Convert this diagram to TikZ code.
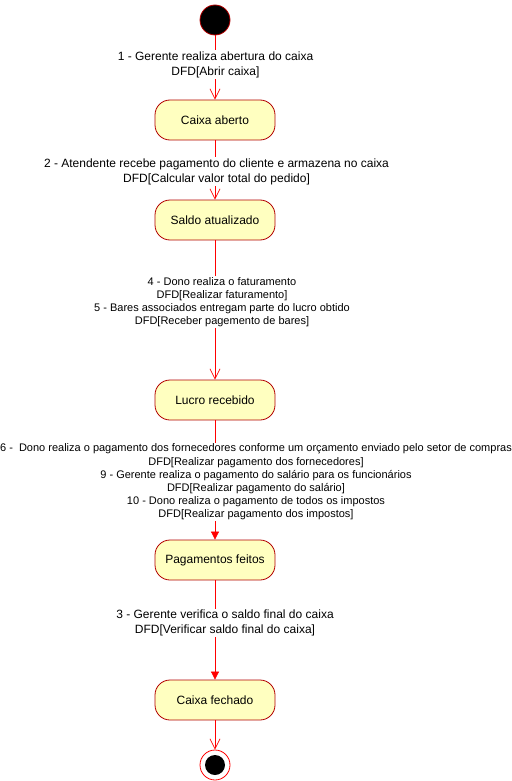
\documentclass[tikz,border=0pt]{standalone}
\usepackage{fontspec}
\setmainfont{Liberation Sans}
\usetikzlibrary{arrows.meta}
\definecolor{stfill}{HTML}{FFFFC0}
\definecolor{ststroke}{HTML}{B20000}
\definecolor{edgered}{HTML}{FF0000}
\begin{document}
\begin{tikzpicture}[x=1pt,y=-1pt,
  state/.style={draw=ststroke, fill=stfill, rounded corners=15pt, minimum width=120pt, minimum height=40pt, inner sep=0pt, font=\fontsize{12}{14.4}\selectfont, line width=0.8pt},
  edge/.style={draw=edgered, line width=0.7pt},
  openarr/.style={edge, -{Straight Barb[length=10pt,width=10pt,line width=0.7pt]}},
  filledarr/.style={edge, -{Triangle[length=8pt,width=8pt]}},
  lbl/.style={fill=white, align=center, inner sep=1pt, font=\fontsize{12}{15}\selectfont},
  lblsmall/.style={lbl, font=\fontsize{11}{13.2}\selectfont}
]
\useasboundingbox (0,0) rectangle (511,781);
\node[circle, fill=black, draw=ststroke, line width=0.8pt, minimum size=30pt, inner sep=0pt] (init) at (215,20) {};
\node[state] (s1) at (215,120) {Caixa aberto};
\node[state] (s2) at (215,220) {Saldo atualizado};
\node[state] (s3) at (215,400) {Lucro recebido};
\node[state] (s4) at (215,560) {Pagamentos feitos};
\node[state] (s5) at (215,700) {Caixa fechado};
\node[circle, draw=edgered, fill=white, line width=0.8pt, minimum size=30pt, inner sep=0pt] (fin) at (215,765) {};
\node[circle, fill=black, minimum size=20pt, inner sep=0pt] (fininner) at (215,765) {};

\draw[openarr] (init) -- (s1);
\draw[openarr] (s1) -- (s2);
\draw[openarr] (s2) -- (s3);
\draw[filledarr] (s3) -- (s4);
\draw[filledarr] (s4) -- (s5);
\draw[openarr] (s5) -- (fin);

\node[lbl] (l1) at (215.5,64.5) {1 - Gerente realiza abertura do caixa\\DFD[Abrir caixa]};
\node[lbl] (l2) at (216.5,171.5) {2 - Atendente recebe pagamento do cliente e armazena no caixa\\DFD[Calcular valor total do pedido]};
\node[lblsmall] (l3) at (222,302) {4 - Dono realiza o faturamento\\DFD[Realizar faturamento]\\5 - Bares associados entregam parte do lucro obtido\\DFD[Receber pagemento de bares]};
\node[lblsmall] (l4) at (256,482) {6 -\ \ Dono realiza o pagamento dos fornecedores conforme um orçamento enviado pelo setor de compras\\DFD[Realizar pagamento dos fornecedores]\\9 - Gerente realiza o pagamento do salário para os funcionários\\DFD[Realizar pagamento do salário]\\10 - Dono realiza o pagamento de todos os impostos\\DFD[Realizar pagamento dos impostos]};
\node[lbl] (l5) at (225,623) {3 - Gerente verifica o saldo final do caixa\\DFD[Verificar saldo final do caixa]};
\end{tikzpicture}
\end{document}
